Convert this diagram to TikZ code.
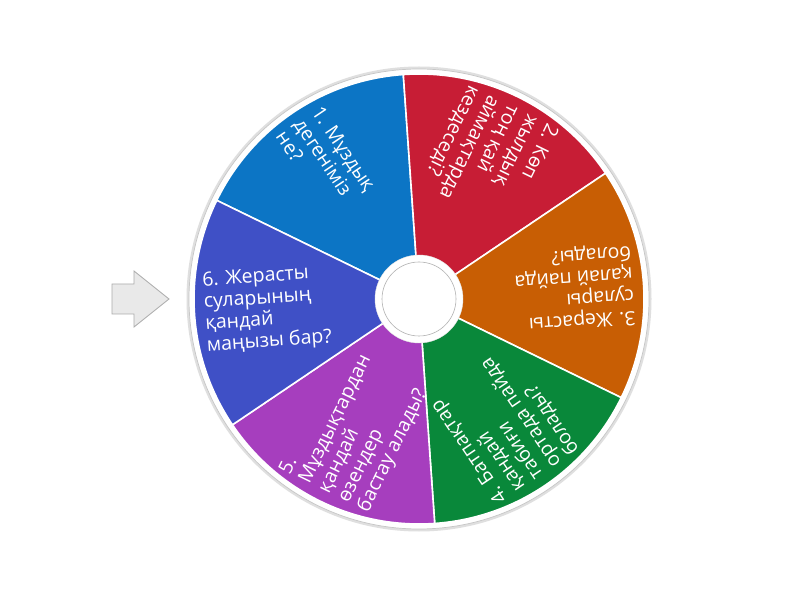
\documentclass[tikz,border=0pt]{standalone}
\usepackage{fontspec}
\newfontfamily\wheelfont{Open Sans}
\usepackage{tikz}
\definecolor{segblue}{RGB}{12,117,197}
\definecolor{segred}{RGB}{199,29,53}
\definecolor{segorange}{RGB}{200,94,4}
\definecolor{seggreen}{RGB}{9,136,58}
\definecolor{segpurple}{RGB}{166,62,190}
\definecolor{segindigo}{RGB}{63,80,198}

\begin{document}
\begin{tikzpicture}[x=1pt,y=1pt,
  segment/.style={draw=white,line width=1.6pt,line join=round},
  question/.style={text=white,anchor=west,align=left,inner sep=0pt,
    font=\wheelfont\fontsize{19.5}{21.7}\selectfont}]
\useasboundingbox (0,0) rectangle (800,600);
\fill[white] (0,0) rectangle (800,600);
\path (419,301) coordinate(hub);
% rim
\draw[gray!25,line width=3pt] (hub) circle[radius=231];
\draw[gray!45,fill=white,line width=0.7pt] (hub) circle[radius=230];
% segments
\fill[segment,fill=segblue] (hub) -- ++(94:225) arc[start angle=94,end angle=154,radius=225] -- cycle;
\fill[segment,fill=segred] (hub) -- ++(34:225) arc[start angle=34,end angle=94,radius=225] -- cycle;
\fill[segment,fill=segorange] (hub) -- ++(-26:225) arc[start angle=-26,end angle=34,radius=225] -- cycle;
\fill[segment,fill=seggreen] (hub) -- ++(-86:225) arc[start angle=-86,end angle=-26,radius=225] -- cycle;
\fill[segment,fill=segpurple] (hub) -- ++(-146:225) arc[start angle=-146,end angle=-86,radius=225] -- cycle;
\fill[segment,fill=segindigo] (hub) -- ++(154:225) arc[start angle=154,end angle=214,radius=225] -- cycle;
% hub
\path (hub) node(hubring) [circle,fill=white,draw=gray!20,minimum size=88,inner sep=0pt] {};
\path (hub) node(hubcap) [circle,fill=white,draw=gray!60,line width=0.6pt,minimum size=74,inner sep=0pt] {};
% questions
\path (hub) ++(124:215) node(q1) [question,rotate=-56] {1. Мұздық\\дегеніміз\\не?};
\path (hub) ++(64:215) node(q2) [question,rotate=244] {2. Көп\\жылдық\\тоң қай\\аймақтарда\\кездеседі?};
\path (hub) ++(4:215) node(q3) [question,rotate=184] {3. Жерасты\\сулары\\қалай пайда\\болады?};
\path (hub) ++(-56:215) node(q4) [question,rotate=124] {4. Батпақтар\\қандай\\табиғи\\ортада пайда\\болады?};
\path (hub) ++(-116:215) node(q5) [question,rotate=64] {5.\\Мұздықтардан\\қандай\\өзендер\\бастау алады?};
\path (hub) ++(184:215) node(q6) [question,rotate=4] {6. Жерасты\\суларының\\қандай\\маңызы бар?};
% pointer
\draw[gray!65,fill=gray!17,line width=0.8pt,line join=miter]
  (112,316) -- (134,316) -- (134,329) -- (169,301) -- (134,273) -- (134,286) -- (112,286) -- cycle;
\end{tikzpicture}
\end{document}
